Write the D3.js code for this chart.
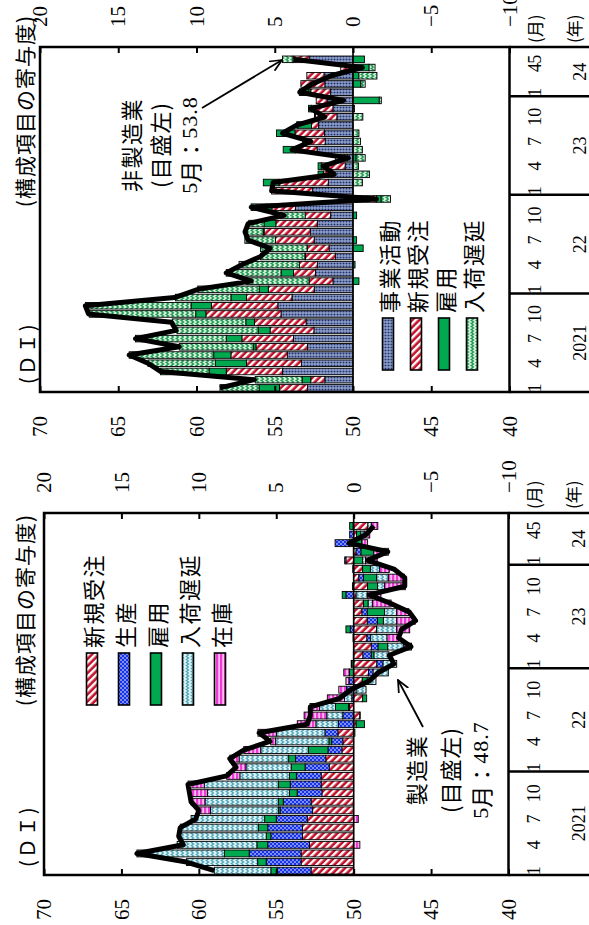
<!DOCTYPE html>
<html lang="ja"><head><meta charset="utf-8">
<script src="https://cdn.jsdelivr.net/npm/d3@7/dist/d3.min.js"></script>
<style>html,body{margin:0;padding:0;background:#fff;overflow:hidden}svg{display:block}</style>
</head><body>
<svg id="chart" width="589" height="925"></svg>
<script>
// ---------------- data ----------------
const yearLabels = ["2021", "22", "23", "24"];
const monthLabels = [1, 4, 7, 10];
const lastYearMonthLabels = [1, 4, 5];
const valueTicks = [40, 45, 50, 55, 60, 65, 70];
const contribTicks = [-10, -5, 0, 5, 10, 15, 20];

// Manufacturing (製造業): contributions (DI points), Jan 2021 - May 2024
const mfgKeys = ["新規受注", "生産", "雇用", "入荷遅延", "在庫"];
const mfgNewOrders = [2.75,3.4,3.4,2.85,3.3,3.3,3.0,2.65,2.75,2.05,2.1,2.1,
  1.58,1.8,0.76,0.7,1.02,-0.16,-0.4,0.26,-0.58,-0.16,-0.56,-0.96,
  -1.5,-0.6,-1.14,-0.86,-1.48,-0.88,-0.54,-0.64,-0.16,-0.9,-0.34,-0.58,
  0.5,-0.16,0.28,-0.18,-0.92];
const mfgProduction = [2.2,2.25,3.35,2.7,2.05,2.25,2.0,2.1,1.8,1.6,2.0,1.6,
  1.56,1.95,0.9,0.72,0.84,0.98,0.7,0.08,0.12,0.46,0.3,-0.3,
  -0.4,-0.54,-0.44,-0.22,0.22,-0.66,-0.34,0,0.5,0.08,-0.3,0.06,
  0.08,-0.32,0.92,0.26,0.04];
const mfgEmployment = [0.4,0.55,1.6,0.7,0.3,0.6,0.75,0.1,0.3,0.5,0.75,0.45,
  0.9,0.45,1.26,0.18,-0.08,-0.54,-0.02,0.84,-0.26,0,-0.32,0.28,
  0.12,-0.18,-0.62,0.04,0.28,-0.38,-1.12,-0.3,0.24,-0.64,-0.84,-0.5,
  -0.58,-0.82,-0.52,-0.28,0.22];
const mfgDeliveries = [3.65,4.6,5.65,5.15,5.65,5.05,4.75,4.4,4.75,5.3,4.8,3.2,
  2.92,3.2,3.08,3.44,3.14,1.46,1.04,1.02,0.48,-0.64,-0.56,-0.98,
  -0.88,-0.96,-1.04,-1.08,-1.3,-0.86,-0.78,-0.28,-0.72,-0.46,-0.76,-0.6,
  -0.18,0.02,-0.02,-0.22,-0.22];
const mfgInventories = [0,0,0,-0.4,0,0,-0.3,0.75,0.9,1.15,1.05,0.85,
  0.68,0.6,1.1,0.32,1.18,1.2,1.46,0.62,1.1,0.5,0.2,0.36,
  0.04,0.02,-0.5,-0.74,-0.84,-1.2,-0.78,-1.2,-0.88,-1.34,-1.04,-0.62,
  -0.76,-0.94,-0.36,-0.36,-0.42];
const mfgDI = [59.0,60.8,64.0,61.0,61.3,61.2,60.2,60.0,60.5,60.6,60.7,58.2,
  57.6,58.0,57.1,55.4,56.1,53.0,52.8,52.8,50.9,50.2,49.0,48.4,
  47.4,47.7,46.3,47.1,46.9,46.0,46.4,47.6,49.0,46.7,46.7,47.4,
  49.1,47.8,50.3,49.2,48.7];

// Non-manufacturing (非製造業)
const svcKeys = ["事業活動", "新規受注", "雇用", "入荷遅延"];
const svcBusiness = [2.9,1.8,4.5,3.3,4.2,2.9,3.8,2.5,3.0,4.6,4.8,3.9,
  2.48,1.28,2.4,2.28,1.13,1.53,2.48,2.73,2.28,1.43,3.68,0.9,
  2.6,1.58,1.35,0.5,0.38,2.3,1.78,1.83,2.2,1.03,1.28,1.65,
  1.45,1.8,1.85,0.23,2.8];
const svcNewOrders = [1.8,0.9,3.6,3.5,3.6,3.3,3.3,2.8,3.3,4.8,4.25,2.9,
  2.93,1.53,1.4,1.15,1.9,1.4,2.48,2.95,2.65,1.63,1.5,-1.5,
  2.6,3.15,0.55,1.53,0.73,1.38,1.25,1.88,0.45,1.38,1.38,0.7,
  1.25,1.53,1.1,0.55,1.03];
const svcEmployment = [1.3,0.55,1.1,2.0,1.1,0.15,1.0,0.75,0.55,0.65,1.3,1.0,
  0.58,-0.38,0.8,-0.13,0.05,-0.65,-0.23,0.05,0.75,-0.23,0.38,-0.3,
  0,1.0,0.33,0.2,-0.2,0.78,0.18,1.18,0.85,0.05,0.18,-1.68,
  0.13,-0.5,-0.38,-1.03,-0.73];
const svcDeliveries = [2.5,3.0,3.1,4.3,5.4,4.75,5.8,5.2,4.7,6.8,6.75,3.55,
  3.93,4.03,3.5,3.85,2.83,2.98,1.95,1.13,0.98,1.58,0.95,-0.6,
  0,-0.6,-1.05,-0.35,-0.58,-0.6,-0.48,-0.38,0.1,-0.63,-0.1,-0.13,
  0.6,-0.28,-1.15,-0.38,0.68];
const svcDI = [58.5,56.3,62.3,63.1,64.3,61.1,63.9,61.3,61.6,66.9,67.1,61.4,
  59.9,56.5,58.1,57.1,55.9,55.3,56.7,56.9,56.7,54.4,56.5,48.5,
  55.2,55.1,51.2,51.9,50.3,53.9,52.7,54.5,53.6,51.8,52.7,50.6,
  53.4,52.6,51.4,49.4,53.8];

// ---------------- drawing ----------------
const FONT_NUM = "'Liberation Serif','DejaVu Serif',serif";
const FONT_JP = "'Noto Sans CJK JP','Noto Sans CJK SC',sans-serif";
const W0 = 925, H0 = 589; // original (unrotated) width/height
const svg = d3.select("#chart");
const defs = svg.append("defs");

function pat(id, w, h, tr, build) {
  const p = defs.append("pattern").attr("id", id).attr("width", w).attr("height", h)
    .attr("patternUnits", "userSpaceOnUse");
  if (tr) p.attr("patternTransform", tr);
  build(p);
}
pat("pNO", 5, 5, "rotate(-45)", p => {
  p.append("rect").attr("width", 5).attr("height", 5).attr("fill", "#fff");
  p.append("rect").attr("width", 2.6).attr("height", 5).attr("fill", "#c3102a");
});
pat("pProd", 4, 4, null, p => {
  p.append("rect").attr("width", 4).attr("height", 4).attr("fill", "#1733e6");
  p.append("circle").attr("cx", 1).attr("cy", 1).attr("r", 0.8).attr("fill", "#fff");
  p.append("circle").attr("cx", 3).attr("cy", 3).attr("r", 0.8).attr("fill", "#fff");
});
pat("pSDm", 6, 5, null, p => {
  p.append("rect").attr("width", 6).attr("height", 5).attr("fill", "#dcf2f4");
  p.append("path").attr("d", "M0,3.6 L1.5,1.2 L3,3.6 L4.5,1.2 L6,3.6").attr("fill", "none")
    .attr("stroke", "#4aa3b8").attr("stroke-width", 1.1);
});
pat("pSDs", 6, 5, null, p => {
  p.append("rect").attr("width", 6).attr("height", 5).attr("fill", "#d3efdc");
  p.append("path").attr("d", "M0,3.6 L1.5,1.2 L3,3.6 L4.5,1.2 L6,3.6").attr("fill", "none")
    .attr("stroke", "#1f9a50").attr("stroke-width", 1.3);
});
pat("pInv", 4, 4, null, p => {
  p.append("rect").attr("width", 4).attr("height", 4).attr("fill", "#f03ad8");
  p.append("rect").attr("y", 2.4).attr("width", 4).attr("height", 1.4).attr("fill", "#fde0f6");
});
pat("pBA", 3, 3, null, p => {
  p.append("rect").attr("width", 3).attr("height", 3).attr("fill", "#8d9dc9");
  p.append("circle").attr("cx", 1.5).attr("cy", 1.5).attr("r", 0.9).attr("fill", "#22336c");
});
defs.append("marker").attr("id", "arr").attr("viewBox", "0 0 12 12").attr("refX", 11).attr("refY", 6)
  .attr("markerWidth", 13).attr("markerHeight", 13).attr("markerUnits", "userSpaceOnUse").attr("orient", "auto")
  .append("path").attr("d", "M0,1 L11,6 L0,11").attr("fill", "none").attr("stroke", "#000").attr("stroke-width", 1.6);

const GREEN = "#00a84f";
const root = svg.append("g").attr("transform", `translate(0,${W0}) rotate(-90)`);

function jpText(g, x, y, str, size, anchor, ls) {
  return g.append("text").attr("x", x).attr("y", y).attr("font-family", FONT_JP).attr("font-size", size)
    .attr("text-anchor", anchor || "start").attr("dominant-baseline", "central")
    .attr("letter-spacing", ls || 0).attr("fill", "#000").text(str);
}

function drawPanel(p) {
  const gp = root.append("g");
  const x = d3.scaleLinear().domain([0, 42]).range([p.x0, p.x1]);
  const yV = d3.scaleLinear().domain([40, 70]).range([p.yBot, p.yTop]);
  const yC = d3.scaleLinear().domain([-10, 20]).range([p.yBot, p.yTop]);
  const bw = (p.x1 - p.x0) / 42 * 0.8;

  const rows = p.di.map((v, i) => { const r = { i }; p.keys.forEach((k, j) => r[k] = p.series[j][i]); return r; });
  const stacked = d3.stack().keys(p.keys).offset(d3.stackOffsetDiverging)(rows);
  stacked.forEach((s, j) => {
    gp.append("g").selectAll("rect").data(s.filter(d => Math.abs(d[1] - d[0]) > 1e-6)).join("rect")
      .attr("x", d => x(d.data.i + 0.5) - bw / 2).attr("width", bw)
      .attr("y", d => yC(Math.max(d[0], d[1])))
      .attr("height", d => Math.abs(yC(d[0]) - yC(d[1])))
      .attr("fill", p.fills[j]).attr("stroke", "#000").attr("stroke-width", 0.9);
  });
  // zero line
  gp.append("line").attr("x1", p.x0).attr("x2", p.x1).attr("y1", yC(0)).attr("y2", yC(0))
    .attr("stroke", "#000").attr("stroke-width", 1.6);
  // DI line
  gp.append("path").datum(p.di)
    .attr("d", d3.line().x((d, i) => x(i + 0.5)).y(d => yV(d)))
    .attr("fill", "none").attr("stroke", "#000").attr("stroke-width", 5).attr("stroke-linejoin", "round");
  // frame
  gp.append("rect").attr("x", p.x0).attr("y", p.yTop).attr("width", p.x1 - p.x0).attr("height", p.yBot - p.yTop)
    .attr("fill", "none").attr("stroke", "#000").attr("stroke-width", 2.5);
  [0, 12, 24, 36, 42].forEach(m => gp.append("line").attr("x1", x(m)).attr("x2", x(m))
    .attr("y1", p.yBot).attr("y2", H0 + 5).attr("stroke", "#000").attr("stroke-width", 2.5));

  // axes
  gp.append("g").attr("transform", `translate(${p.x0},0)`)
    .call(d3.axisLeft(yV).tickValues(valueTicks).tickSizeInner(-6).tickSizeOuter(0).tickPadding(24).tickFormat(d3.format("d")))
    .call(g => g.select(".domain").remove())
    .call(g => g.selectAll("line").attr("stroke-width", 2))
    .attr("font-family", FONT_NUM).attr("font-size", 21)
    .call(g => g.selectAll("text").attr("fill", "#000"));
  gp.append("g").attr("transform", `translate(${p.x1},0)`)
    .call(d3.axisRight(yC).tickValues(contribTicks).tickSizeInner(-6).tickSizeOuter(0).tickPadding(20).tickFormat(d3.format("d")))
    .call(g => g.select(".domain").remove())
    .call(g => g.selectAll("line").attr("stroke-width", 2))
    .attr("font-family", FONT_NUM).attr("font-size", 21)
    .call(g => g.selectAll("text").attr("fill", "#000"));

  // month / year labels
  yearLabels.forEach((yl, yi) => {
    const ms = yi < 3 ? monthLabels : lastYearMonthLabels;
    ms.forEach(m => gp.append("text").attr("x", x(yi * 12 + m - 0.5)).attr("y", p.yBot + 25)
      .attr("font-family", FONT_NUM).attr("font-size", 18).attr("text-anchor", "middle")
      .attr("dominant-baseline", "central").text(m));
    const span = yi < 3 ? 12 : 6;
    gp.append("text").attr("x", x(yi * 12 + span / 2)).attr("y", p.yBot + 70)
      .attr("font-family", FONT_NUM).attr("font-size", 18).attr("text-anchor", "middle")
      .attr("dominant-baseline", "central").text(yl);
  });
  jpText(gp, p.x1 + 4, p.yBot + 25, "(月)", 17, "start");
  jpText(gp, p.x1 + 4, p.yBot + 64, "(年)", 17, "start");

  // titles
  jpText(gp, p.x0 + 8, 26, "(ＤＩ)", 20, "start", 2);
  jpText(gp, p.titleEnd, 24, "(構成項目の寄与度)", 21, "end", 1);

  // legend
  p.keys.forEach((k, j) => {
    const cy = p.legY[j];
    gp.append("rect").attr("x", p.legX).attr("y", cy - 5.5).attr("width", 52).attr("height", 11)
      .attr("fill", p.fills[j]).attr("stroke", "#000").attr("stroke-width", 1.6);
    jpText(gp, p.legX + 57, cy, k, 22, "start", 1.5);
  });

  // annotation
  const [l1, l2, l3] = p.noteY;
  jpText(gp, p.noteX, l1, p.noteName, 22, "middle", 1.5);
  jpText(gp, p.noteX, l2, "(目盛左)", 22, "middle", 1);
  const t = gp.append("text").attr("x", p.noteX).attr("y", l3).attr("text-anchor", "middle")
    .attr("dominant-baseline", "central").attr("font-size", 22);
  t.append("tspan").attr("font-family", FONT_NUM).text("5");
  t.append("tspan").attr("font-family", FONT_JP).text("月：");
  t.append("tspan").attr("font-family", FONT_NUM).attr("letter-spacing", 1).text(p.noteValue);
  gp.append("line").attr("x1", p.arrow[0]).attr("y1", p.arrow[1]).attr("x2", p.arrow[2]).attr("y2", p.arrow[3])
    .attr("stroke", "#000").attr("stroke-width", 1.8).attr("marker-end", "url(#arr)");
}

drawPanel({
  x0: 50, x1: 412, yTop: 44, yBot: 508.5,
  keys: mfgKeys,
  series: [mfgNewOrders, mfgProduction, mfgEmployment, mfgDeliveries, mfgInventories],
  fills: ["url(#pNO)", "url(#pProd)", GREEN, "url(#pSDm)", "url(#pInv)"],
  di: mfgDI,
  titleEnd: 411,
  legX: 220, legY: [92, 124, 156, 188, 220],
  noteX: 155, noteY: [415, 449, 480], noteName: "製造業", noteValue: "48.7",
  arrow: [198, 423, 245, 398]
});
drawPanel({
  x0: 533, x1: 878, yTop: 40, yBot: 509.5,
  keys: svcKeys,
  series: [svcBusiness, svcNewOrders, svcEmployment, svcDeliveries],
  fills: ["url(#pBA)", "url(#pNO)", GREEN, "url(#pSDs)"],
  di: svcDI,
  titleEnd: 910,
  legX: 555, legY: [388, 416, 444, 472],
  noteX: 780, noteY: [130, 159, 189], noteName: "非製造業", noteValue: "53.8",
  arrow: [817, 202, 865, 282]
});
</script>
</body></html>
